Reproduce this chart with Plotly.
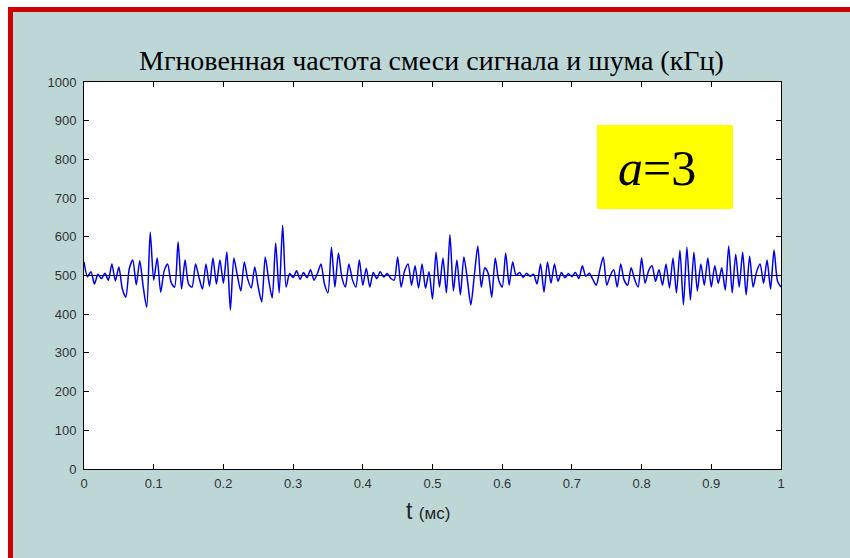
import plotly.graph_objects as go

# Instantaneous frequency of signal + noise mixture, sampled every 0.005 ms
dt_ms = 0.005
freq_khz = [
    535, 497, 510, 478, 503, 492, 506, 488, 530, 486,
    522, 465, 444, 518, 540, 476, 538, 470, 418, 612,
    488, 545, 457, 512, 530, 482, 470, 587, 465, 540,
    478, 470, 530, 495, 465, 530, 472, 545, 478, 540,
    480, 561, 411, 545, 500, 460, 535, 490, 468, 522,
    470, 432, 548, 488, 442, 584, 455, 630, 470, 505,
    495, 512, 490, 508, 494, 515, 488, 506, 530, 478,
    455, 573, 470, 558, 495, 470, 530, 490, 470, 540,
    475, 519, 470, 508, 492, 510, 496, 505, 493, 488,
    548, 470, 512, 530, 475, 525, 468, 530, 467, 510,
    439, 560, 470, 545, 455, 605, 460, 540, 450, 548,
    490, 424, 500, 576, 470, 520, 505, 444, 545, 488,
    470, 558, 475, 535, 500, 508, 495, 506, 498, 503,
    478, 530, 457, 535, 480, 530, 485, 508, 494, 505,
    497, 508, 492, 525, 498, 506, 490, 475, 514, 548,
    475, 500, 515, 470, 530, 488, 475, 520, 490, 470,
    545, 480, 512, 525, 485, 515, 475, 530, 468, 545,
    455, 565, 424, 573, 437, 560, 460, 530, 475, 545,
    470, 525, 480, 520, 462, 576, 455, 555, 470, 560,
    450, 550, 470, 510, 530, 480, 540, 465, 566, 485, 470,
]
t_ms = [round(i * dt_ms, 4) for i in range(len(freq_khz))]

carrier_khz = 500
x_ticks = [0, 0.1, 0.2, 0.3, 0.4, 0.5, 0.6, 0.7, 0.8, 0.9, 1]
x_ticklabels = ["0", "0.1", "0.2", "0.3", "0.4", "0.5", "0.6", "0.7", "0.8", "0.9", "1"]
y_ticks = [0, 100, 200, 300, 400, 500, 600, 700, 800, 900, 1000]

title_text = "Мгновенная частота смеси сигнала и шума (кГц)"
xlabel_main = "t"
xlabel_unit = "(мс)"

W, H = 850, 558
L, R, T, B = 84, 69, 82, 89
PW, PH = W - L - R, H - T - B


def px_x(px):
    return (px - L) / PW


def px_y(py):
    return (H - B - py) / PH


slide_bg = "#bdd7d7"
border_red = "#cc0000"
tick_font = dict(family="Liberation Sans", size=13, color="#333")

fig = go.Figure()

fig.add_trace(go.Scatter(
    x=[t_ms[0], t_ms[-1]], y=[carrier_khz, carrier_khz],
    mode="lines", line=dict(color="black", width=1.2),
    hoverinfo="skip", showlegend=False,
))
fig.add_trace(go.Scatter(
    x=t_ms, y=freq_khz, mode="lines",
    line=dict(color="#0000e6", width=1.5, shape="spline", smoothing=0.7),
    showlegend=False,
))

shapes = [
    # slide background and red frame
    dict(type="rect", xref="paper", yref="paper",
         x0=px_x(8), x1=px_x(W + 5), y0=px_y(H + 5), y1=px_y(7),
         fillcolor=slide_bg, line_width=0, layer="below"),
    dict(type="rect", xref="paper", yref="paper",
         x0=px_x(8), x1=px_x(W + 5), y0=px_y(12), y1=px_y(7),
         fillcolor=border_red, line_width=0, layer="below"),
    dict(type="rect", xref="paper", yref="paper",
         x0=px_x(8), x1=px_x(13), y0=px_y(H + 5), y1=px_y(7),
         fillcolor=border_red, line_width=0, layer="below"),
    # white axes area
    dict(type="rect", xref="paper", yref="paper",
         x0=0, x1=1, y0=0, y1=1,
         fillcolor="white", line_width=0, layer="below"),
    # yellow label box
    dict(type="rect", xref="paper", yref="paper",
         x0=px_x(597), x1=px_x(733), y0=px_y(209), y1=px_y(125),
         fillcolor="#ffff00", line_width=0, layer="above"),
]

annotations = [
    dict(text=title_text, xref="paper", yref="paper",
         x=px_x(431), y=px_y(60), xanchor="center", yanchor="middle",
         showarrow=False,
         font=dict(family="Liberation Serif", size=28, color="black")),
    dict(text=f"{xlabel_main} <span style='font-size:17px'>{xlabel_unit}</span>",
         xref="paper", yref="paper",
         x=px_x(428), y=px_y(511), xanchor="center", yanchor="middle",
         showarrow=False,
         font=dict(family="Liberation Sans", size=23, color="#222")),
    dict(text="<i>a</i>=3", xref="paper", yref="paper",
         x=px_x(657), y=px_y(168), xanchor="center", yanchor="middle",
         showarrow=False,
         font=dict(family="Liberation Serif", size=50, color="black")),
]

fig.update_layout(
    width=W, height=H,
    margin=dict(l=L, r=R, t=T, b=B, pad=0),
    paper_bgcolor="white",
    plot_bgcolor="rgba(0,0,0,0)",
    shapes=shapes,
    annotations=annotations,
    xaxis=dict(
        range=[0, 1], tickvals=x_ticks, ticktext=x_ticklabels,
        ticks="inside", ticklen=5, tickcolor="black",
        showline=True, linecolor="black", linewidth=1, mirror="ticks",
        showgrid=False, zeroline=False, ticklabelstandoff=2,
        tickfont=tick_font,
    ),
    yaxis=dict(
        range=[0, 1000], tickvals=y_ticks,
        ticks="inside", ticklen=5, tickcolor="black",
        showline=True, linecolor="black", linewidth=1, mirror="ticks",
        showgrid=False, zeroline=False, ticklabelstandoff=4,
        tickfont=tick_font,
    ),
)

fig.write_html("out.html")
